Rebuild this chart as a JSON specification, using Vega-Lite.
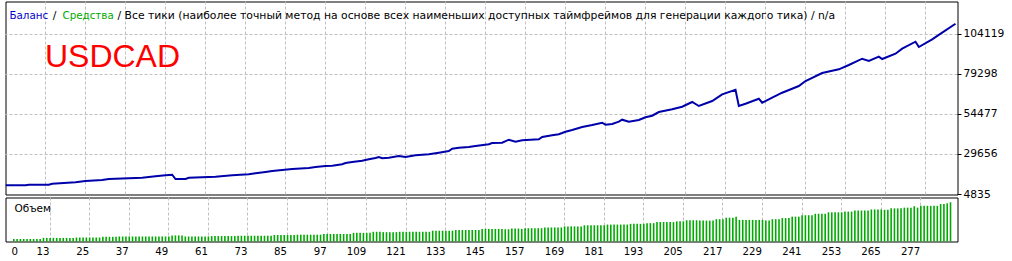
{
  "$schema": "https://vega.github.io/schema/vega-lite/v6.json",
  "background": "white",
  "padding": {"left": 4.5, "top": 0.5, "right": 0, "bottom": 0},
  "spacing": 3,
  "bounds": "flush",
  "config": {
    "view": {"stroke": "#000000", "strokeWidth": 1},
    "axis": {"translate": 0, "labelFont": "DejaVu Sans", "labelColor": "#000000", "gridColor": "#C0C0C0", "gridDash": [3, 2], "gridWidth": 1, "tickColor": "#000000", "title": null, "labelOverlap": false}
  },
  "datasets": {
    "balance": [{"t":1,"b":10544},{"t":7,"b":10544},{"t":8,"b":10916},{"t":14,"b":10916},{"t":15,"b":11536},{"t":22,"b":12405},{"t":25,"b":13212},{"t":30,"b":13832},{"t":32,"b":14453},{"t":42,"b":15259},{"t":46,"b":16128},{"t":49,"b":16749},{"t":51,"b":17121},{"t":52,"b":14453},{"t":55,"b":14453},{"t":56,"b":15259},{"t":64,"b":15880},{"t":69,"b":16749},{"t":74,"b":17369},{"t":76,"b":17990},{"t":79,"b":18796},{"t":81,"b":19417},{"t":84,"b":20037},{"t":87,"b":20658},{"t":92,"b":21278},{"t":94,"b":21899},{"t":97,"b":22519},{"t":99,"b":22705},{"t":102,"b":23574},{"t":103,"b":24381},{"t":105,"b":25001},{"t":108,"b":25808},{"t":110,"b":26677},{"t":112,"b":27483},{"t":113,"b":28104},{"t":114,"b":27297},{"t":116,"b":27669},{"t":119,"b":28724},{"t":121,"b":28104},{"t":124,"b":29159},{"t":128,"b":29779},{"t":131,"b":30772},{"t":134,"b":31827},{"t":135,"b":33254},{"t":137,"b":33874},{"t":140,"b":34309},{"t":142,"b":34929},{"t":146,"b":35984},{"t":147,"b":36791},{"t":150,"b":36977},{"t":152,"b":38838},{"t":154,"b":37597},{"t":156,"b":38466},{"t":161,"b":39087},{"t":162,"b":40514},{"t":165,"b":41569},{"t":167,"b":42189},{"t":169,"b":43802},{"t":171,"b":44857},{"t":174,"b":46719},{"t":177,"b":47960},{"t":180,"b":49387},{"t":181,"b":48146},{"t":183,"b":48580},{"t":185,"b":50007},{"t":186,"b":51248},{"t":188,"b":50007},{"t":191,"b":51062},{"t":193,"b":52738},{"t":195,"b":53730},{"t":197,"b":56026},{"t":201,"b":57702},{"t":204,"b":59315},{"t":207,"b":62231},{"t":209,"b":59749},{"t":213,"b":62852},{"t":216,"b":67009},{"t":220,"b":69863},{"t":221,"b":59749},{"t":223,"b":61176},{"t":227,"b":64279},{"t":228,"b":61797},{"t":231,"b":64899},{"t":234,"b":68002},{"t":239,"b":72159},{"t":241,"b":75262},{"t":246,"b":80226},{"t":251,"b":82522},{"t":254,"b":85190},{"t":258,"b":89099},{"t":260,"b":87672},{"t":263,"b":90340},{"t":264,"b":88913},{"t":268,"b":92201},{"t":270,"b":95304},{"t":274,"b":99647},{"t":275,"b":96359},{"t":279,"b":101137},{"t":282,"b":105232},{"t":286,"b":110816}],
    "volume": [{"t":2,"v":0.07},{"t":3,"v":0.07},{"t":4,"v":0.07},{"t":5,"v":0.07},{"t":6,"v":0.07},{"t":7,"v":0.07},{"t":8,"v":0.07},{"t":9,"v":0.07},{"t":10,"v":0.07},
{"t":11,"v":0.1},{"t":12,"v":0.1},{"t":13,"v":0.1},{"t":14,"v":0.1},{"t":15,"v":0.1},{"t":16,"v":0.1},{"t":17,"v":0.1},{"t":18,"v":0.1},{"t":19,"v":0.1},{"t":20,"v":0.1},
{"t":21,"v":0.11},{"t":22,"v":0.11},{"t":23,"v":0.11},{"t":24,"v":0.11},{"t":25,"v":0.11},{"t":26,"v":0.11},{"t":27,"v":0.11},{"t":28,"v":0.11},
{"t":29,"v":0.13},{"t":30,"v":0.13},{"t":31,"v":0.13},{"t":32,"v":0.13},{"t":33,"v":0.13},
{"t":34,"v":0.14},{"t":35,"v":0.14},{"t":36,"v":0.14},{"t":37,"v":0.14},{"t":38,"v":0.14},{"t":39,"v":0.14},{"t":40,"v":0.14},{"t":41,"v":0.14},{"t":42,"v":0.14},{"t":43,"v":0.14},{"t":44,"v":0.14},{"t":45,"v":0.14},{"t":46,"v":0.14},{"t":47,"v":0.14},{"t":48,"v":0.14},{"t":49,"v":0.14},
{"t":50,"v":0.17},{"t":51,"v":0.17},{"t":52,"v":0.17},{"t":53,"v":0.17},
{"t":54,"v":0.14},{"t":55,"v":0.14},{"t":56,"v":0.14},{"t":57,"v":0.14},{"t":58,"v":0.14},{"t":59,"v":0.14},{"t":60,"v":0.14},{"t":61,"v":0.14},
{"t":62,"v":0.15},{"t":63,"v":0.15},{"t":64,"v":0.15},{"t":65,"v":0.15},{"t":66,"v":0.15},{"t":67,"v":0.15},{"t":68,"v":0.15},{"t":69,"v":0.15},
{"t":70,"v":0.16},{"t":71,"v":0.16},{"t":72,"v":0.16},{"t":73,"v":0.16},{"t":74,"v":0.16},{"t":75,"v":0.16},{"t":76,"v":0.16},{"t":77,"v":0.16},{"t":78,"v":0.16},{"t":79,"v":0.16},{"t":80,"v":0.16},
{"t":81,"v":0.18},{"t":82,"v":0.18},{"t":83,"v":0.18},{"t":84,"v":0.18},{"t":85,"v":0.18},{"t":86,"v":0.18},{"t":87,"v":0.18},
{"t":88,"v":0.19},{"t":89,"v":0.19},{"t":90,"v":0.19},{"t":91,"v":0.19},{"t":92,"v":0.19},{"t":93,"v":0.19},{"t":94,"v":0.19},{"t":95,"v":0.19},
{"t":96,"v":0.21},{"t":97,"v":0.21},{"t":98,"v":0.21},{"t":99,"v":0.21},{"t":100,"v":0.21},{"t":101,"v":0.21},{"t":102,"v":0.21},{"t":103,"v":0.21},{"t":104,"v":0.21},
{"t":105,"v":0.24},{"t":106,"v":0.24},{"t":107,"v":0.24},{"t":108,"v":0.24},{"t":109,"v":0.24},{"t":110,"v":0.24},
{"t":111,"v":0.27},{"t":112,"v":0.27},{"t":113,"v":0.27},
{"t":114,"v":0.26},{"t":115,"v":0.26},{"t":116,"v":0.26},{"t":117,"v":0.26},{"t":118,"v":0.26},
{"t":119,"v":0.27},{"t":120,"v":0.27},{"t":121,"v":0.27},{"t":122,"v":0.27},{"t":123,"v":0.27},{"t":124,"v":0.27},{"t":125,"v":0.27},{"t":126,"v":0.27},{"t":127,"v":0.27},{"t":128,"v":0.27},
{"t":129,"v":0.3},{"t":130,"v":0.3},{"t":131,"v":0.3},{"t":132,"v":0.3},{"t":133,"v":0.3},{"t":134,"v":0.3},{"t":135,"v":0.3},
{"t":136,"v":0.32},{"t":137,"v":0.32},{"t":138,"v":0.32},{"t":139,"v":0.32},{"t":140,"v":0.32},{"t":141,"v":0.32},{"t":142,"v":0.32},{"t":143,"v":0.32},
{"t":144,"v":0.35},{"t":145,"v":0.35},{"t":146,"v":0.35},{"t":147,"v":0.35},{"t":148,"v":0.35},{"t":149,"v":0.35},{"t":150,"v":0.35},
{"t":151,"v":0.34},{"t":152,"v":0.34},{"t":153,"v":0.36},{"t":154,"v":0.36},{"t":155,"v":0.36},{"t":156,"v":0.35},
{"t":157,"v":0.37},{"t":158,"v":0.37},{"t":159,"v":0.37},{"t":160,"v":0.37},{"t":161,"v":0.37},{"t":162,"v":0.37},
{"t":163,"v":0.39},{"t":164,"v":0.39},{"t":165,"v":0.39},{"t":166,"v":0.39},{"t":167,"v":0.39},{"t":168,"v":0.39},
{"t":169,"v":0.42},{"t":170,"v":0.42},{"t":171,"v":0.42},{"t":172,"v":0.42},{"t":173,"v":0.42},{"t":174,"v":0.42},
{"t":175,"v":0.45},{"t":176,"v":0.45},{"t":177,"v":0.45},{"t":178,"v":0.45},{"t":179,"v":0.45},{"t":180,"v":0.45},{"t":181,"v":0.45},
{"t":182,"v":0.47},{"t":183,"v":0.47},{"t":184,"v":0.47},{"t":185,"v":0.47},{"t":186,"v":0.47},{"t":187,"v":0.47},{"t":188,"v":0.47},
{"t":189,"v":0.49},{"t":190,"v":0.49},{"t":191,"v":0.49},{"t":192,"v":0.49},{"t":193,"v":0.49},
{"t":194,"v":0.51},{"t":195,"v":0.51},{"t":196,"v":0.51},
{"t":197,"v":0.54},{"t":198,"v":0.54},{"t":199,"v":0.54},{"t":200,"v":0.54},{"t":201,"v":0.54},{"t":202,"v":0.54},
{"t":203,"v":0.56},{"t":204,"v":0.56},{"t":205,"v":0.56},
{"t":206,"v":0.59},{"t":207,"v":0.59},{"t":208,"v":0.59},{"t":209,"v":0.59},
{"t":210,"v":0.58},{"t":211,"v":0.58},{"t":212,"v":0.58},{"t":213,"v":0.58},{"t":214,"v":0.58},
{"t":215,"v":0.62},{"t":216,"v":0.62},{"t":217,"v":0.62},
{"t":218,"v":0.66},{"t":219,"v":0.66},{"t":220,"v":0.66},{"t":221,"v":0.69},
{"t":222,"v":0.6},{"t":223,"v":0.6},{"t":224,"v":0.6},{"t":225,"v":0.6},{"t":226,"v":0.6},{"t":227,"v":0.6},{"t":228,"v":0.6},{"t":229,"v":0.6},
{"t":230,"v":0.58},{"t":231,"v":0.58},
{"t":232,"v":0.62},{"t":233,"v":0.62},{"t":234,"v":0.62},
{"t":235,"v":0.65},{"t":236,"v":0.65},{"t":237,"v":0.65},
{"t":238,"v":0.69},{"t":239,"v":0.69},{"t":240,"v":0.69},
{"t":241,"v":0.73},{"t":242,"v":0.73},{"t":243,"v":0.73},{"t":244,"v":0.73},
{"t":245,"v":0.77},{"t":246,"v":0.77},{"t":247,"v":0.77},{"t":248,"v":0.77},
{"t":249,"v":0.81},{"t":250,"v":0.81},{"t":251,"v":0.81},{"t":252,"v":0.81},{"t":253,"v":0.81},
{"t":254,"v":0.83},{"t":255,"v":0.83},{"t":256,"v":0.83},
{"t":257,"v":0.86},{"t":258,"v":0.86},{"t":259,"v":0.86},{"t":260,"v":0.86},{"t":261,"v":0.86},
{"t":262,"v":0.89},{"t":263,"v":0.89},{"t":264,"v":0.89},{"t":265,"v":0.89},
{"t":266,"v":0.88},{"t":267,"v":0.88},
{"t":268,"v":0.92},{"t":269,"v":0.92},{"t":270,"v":0.92},{"t":271,"v":0.92},
{"t":272,"v":0.94},{"t":273,"v":0.94},{"t":274,"v":0.94},{"t":275,"v":0.98},{"t":276,"v":0.94},
{"t":277,"v":0.99},{"t":278,"v":0.99},{"t":279,"v":0.99},{"t":280,"v":0.99},{"t":281,"v":0.99},{"t":282,"v":0.99},
{"t":283,"v":1.04},{"t":284,"v":1.04},{"t":285,"v":1.06},{"t":286,"v":1.09}]
  },
  "vconcat": [
    {
      "width": 952,
      "height": 193,
      "layer": [
        {
          "data": {"name": "balance"},
          "mark": {"type": "line", "color": "#0000AA", "strokeWidth": 2, "clip": true},
          "encoding": {
            "x": {"field": "t", "type": "quantitative", "scale": {"domain": [1, 286.6], "nice": false, "zero": false},
              "axis": {"values": [13,25,37,49,61,73,85,97,109,121,133,145,157,169,181,193,205,217,229,241,253,265,277], "labels": false, "ticks": false, "domain": false, "grid": true}},
            "y": {"field": "b", "type": "quantitative", "scale": {"domain": [4835, 124596.3], "nice": false, "zero": false},
              "axis": {"orient": "right", "values": [4835, 29656, 54477, 79298, 104119], "format": "d", "grid": true, "domain": false, "ticks": true, "tickSize": 4, "labelPadding": 2, "labelFontSize": 10.7, "labelBaseline": "middle",
                "gridOpacity": {"condition": {"test": "datum.value < 5000", "value": 0}, "value": 1}}}
          }
        },
        {
          "data": {"values": [{"s": "Баланс"}]},
          "mark": {"type": "text", "align": "left", "baseline": "alphabetic", "font": "DejaVu Sans", "fontSize": 10.3, "color": "#0000CC"},
          "encoding": {"x": {"datum": 2.2}, "y": {"datum": 113550}, "text": {"field": "s"}}
        },
        {
          "data": {"values": [{"s": "/"}]},
          "mark": {"type": "text", "align": "left", "baseline": "alphabetic", "font": "DejaVu Sans", "fontSize": 10.8, "color": "#000000"},
          "encoding": {"x": {"datum": 15.2}, "y": {"datum": 113550}, "text": {"field": "s"}}
        },
        {
          "data": {"values": [{"s": "Средства"}]},
          "mark": {"type": "text", "align": "left", "baseline": "alphabetic", "font": "DejaVu Sans", "fontSize": 10.3, "color": "#00AA00"},
          "encoding": {"x": {"datum": 18.1}, "y": {"datum": 113550}, "text": {"field": "s"}}
        },
        {
          "data": {"values": [{"s": "/ Все тики (наиболее точный метод на основе всех наименьших доступных таймфреймов для генерации каждого тика) / n/a"}]},
          "mark": {"type": "text", "align": "left", "baseline": "alphabetic", "font": "DejaVu Sans", "fontSize": 10.8, "color": "#000000"},
          "encoding": {"x": {"datum": 34.6}, "y": {"datum": 113550}, "text": {"field": "s"}}
        },
        {
          "data": {"values": [{"s": "USDCAD"}]},
          "mark": {"type": "text", "align": "center", "baseline": "alphabetic", "font": "Liberation Sans", "fontSize": 32, "color": "#FF0000"},
          "encoding": {"x": {"datum": 33.1}, "y": {"datum": 83951}, "text": {"field": "s"}}
        }
      ]
    },
    {
      "width": 952,
      "height": 44,
      "layer": [
        {
          "data": {"name": "volume"},
          "mark": {"type": "bar", "color": "#00AA00", "width": 1.6},
          "encoding": {
            "x": {"field": "t", "type": "quantitative", "scale": {"domain": [1, 286.6], "nice": false, "zero": false},
              "axis": {"values": [1,13,25,37,49,61,73,85,97,109,121,133,145,157,169,181,193,205,217,229,241,253,265,277], "format": "d", "grid": true, "ticks": false, "domain": false, "labelFlush": false, "labelFontSize": 10.2, "labelPadding": 5, "labelBaseline": "top",
                "labelExpr": "datum.value < 2 ? '0' : datum.label",
                "labelAlign": {"condition": {"test": "datum.value < 2", "value": "left"}, "value": "right"},
                "labelOffset": {"condition": {"test": "datum.value < 2", "value": 1}, "value": -0.5},
                "gridOpacity": {"condition": {"test": "datum.value < 2", "value": 0}, "value": 1}}},
            "y": {"field": "v", "type": "quantitative", "scale": {"domain": [0, 1.222], "nice": false, "zero": true}, "axis": null}
          }
        },
        {
          "data": {"values": [{"s": "Объем"}]},
          "mark": {"type": "text", "align": "left", "baseline": "alphabetic", "font": "DejaVu Sans", "fontSize": 10.5, "color": "#000000"},
          "encoding": {"x": {"datum": 2.2}, "y": {"datum": 0.819}, "text": {"field": "s"}}
        }
      ]
    }
  ]
}
